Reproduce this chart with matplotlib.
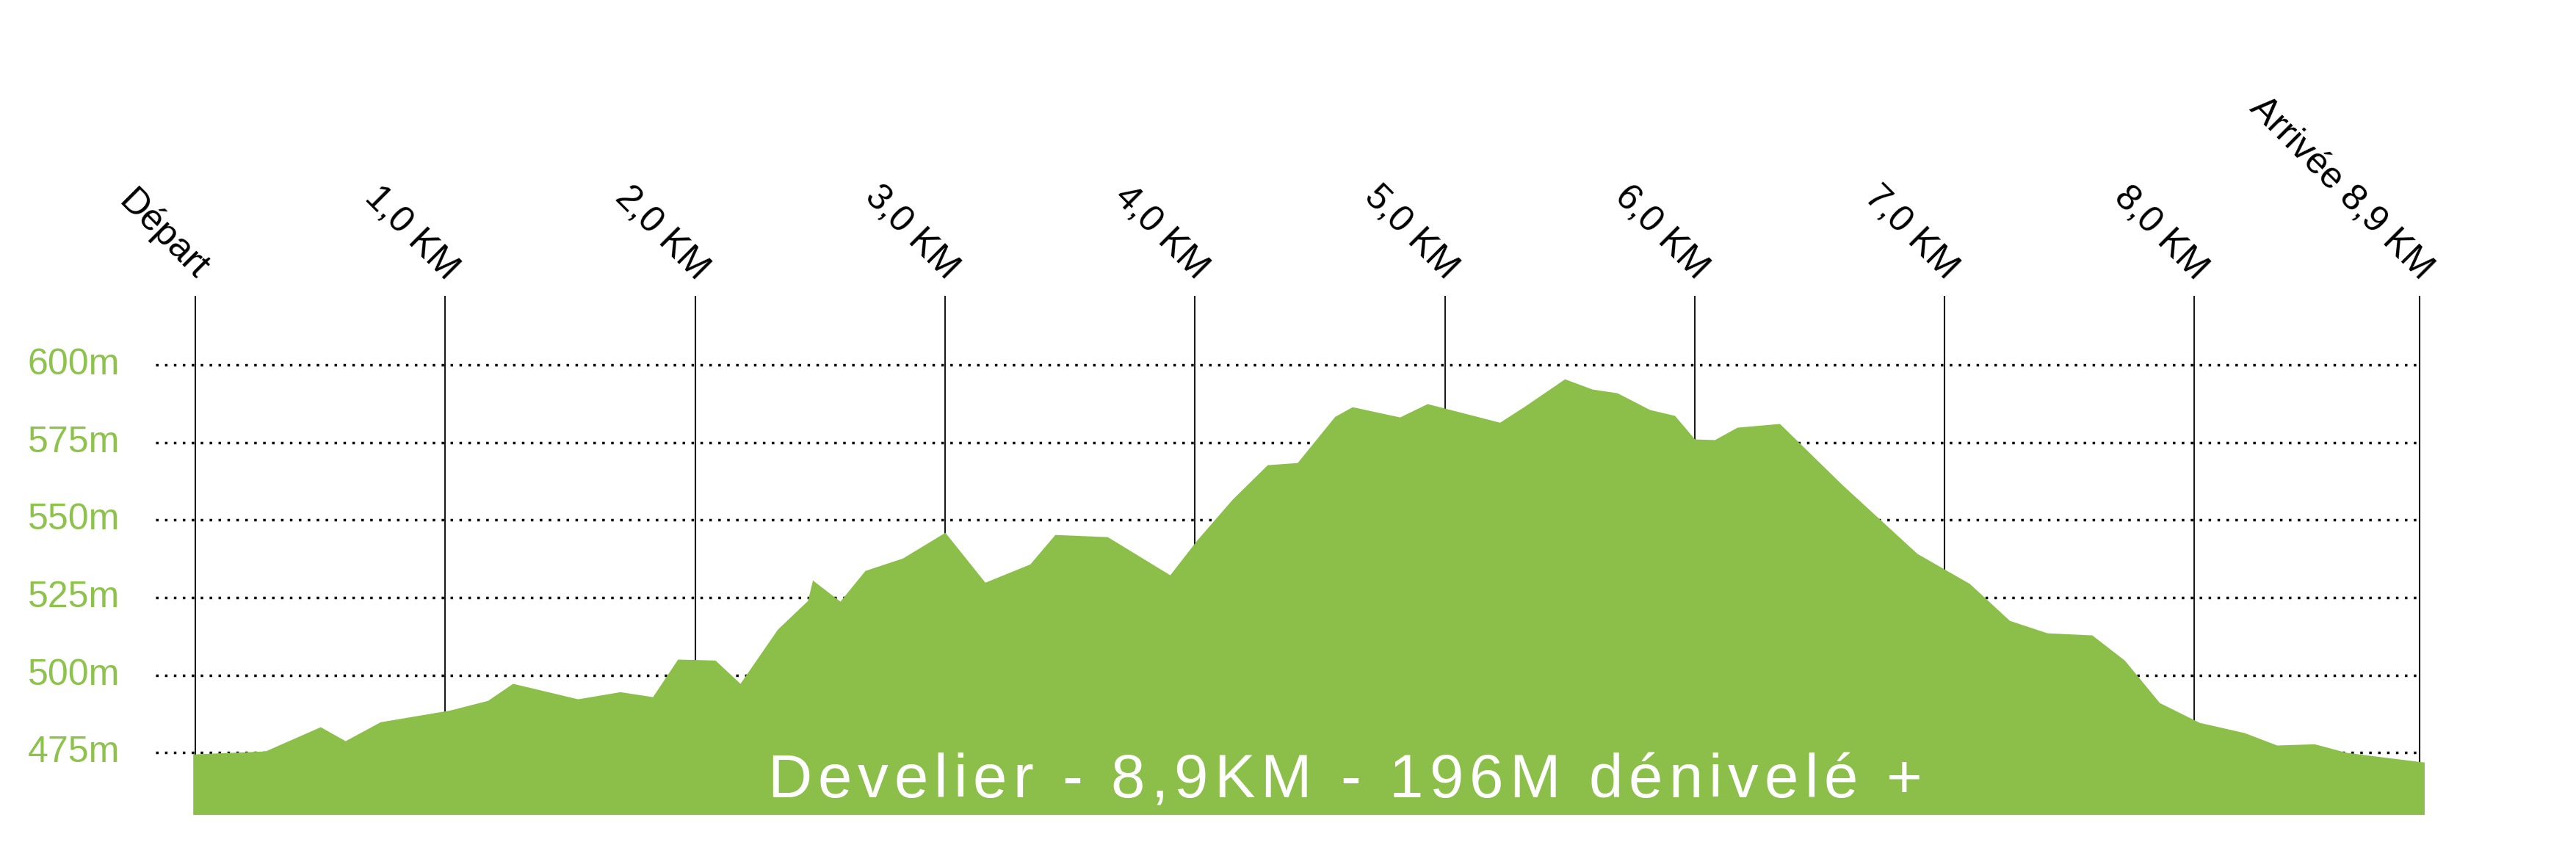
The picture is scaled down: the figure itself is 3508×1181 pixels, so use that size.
import matplotlib
matplotlib.use("Agg")
import matplotlib.pyplot as plt
from matplotlib.font_manager import FontProperties, findfont, get_font
from matplotlib.transforms import offset_copy

plt.rcParams['font.family'] = ['Liberation Sans', 'DejaVu Sans']

# profile: distance (km) / altitude (m)
km = [-0.01, 0.28, 0.50, 0.60, 0.74, 1.02, 1.17, 1.27, 1.53, 1.70,
      1.83, 1.93, 2.08, 2.18, 2.33, 2.45, 2.47, 2.58, 2.68, 2.83,
      3.00, 3.16, 3.34, 3.44, 3.65, 3.90, 4.01, 4.15, 4.29, 4.41,
      4.56, 4.63, 4.82, 4.93, 5.22, 5.32, 5.48, 5.59, 5.69, 5.82,
      5.92, 6.00, 6.08, 6.17, 6.34, 6.59, 6.89, 7.10, 7.26, 7.41,
      7.59, 7.72, 7.86, 8.02, 8.20, 8.33, 8.48, 8.61, 8.92]
alt = [474.5, 475.5, 483.3, 478.8, 484.9, 488.7, 491.8, 497.3, 492.3, 494.6,
       493.0, 505.1, 504.8, 497.3, 514.8, 524.0, 530.6, 523.8, 533.7, 537.7,
       546.0, 529.9, 535.8, 545.3, 544.6, 532.3, 543.7, 556.7, 567.8, 568.5,
       583.4, 586.5, 583.2, 587.5, 581.5, 586.7, 595.5, 592.2, 591.0, 585.6,
       583.7, 576.1, 575.9, 579.9, 581.1, 561.4, 539.2, 529.5, 517.6, 513.6,
       512.9, 504.8, 491.1, 484.7, 481.4, 477.4, 477.8, 475.0, 471.9]

marker_km = [0, 1, 2, 3, 4, 5, 6, 7, 8, 8.9]
marker_labels = ["Départ", "1,0 KM", "2,0 KM", "3,0 KM", "4,0 KM", "5,0 KM",
                 "6,0 KM", "7,0 KM", "8,0 KM", "Arrivée 8,9 KM"]

grid_alt = [475, 500, 525, 550, 575, 600]
grid_labels = ["475m", "500m", "525m", "550m", "575m", "600m"]

title = "Develier - 8,9KM - 196M dénivelé +"

GREEN = "#8cbf4a"
LABEL_GREEN = "#8dc34b"
BASE = 455
LINE_TOP = 622.3

fig = plt.figure(figsize=(35.08, 11.81), dpi=100)
ax = fig.add_axes([0, 0, 1, 1])
ax.set_xlim(-0.782, 9.527)
ax.set_ylim(438.1, 717.7)
ax.axis('off')

ax.vlines(marker_km, BASE, LINE_TOP, colors='#1a1a1a', lw=1.5, zorder=1)
ax.hlines(grid_alt, -0.16, marker_km[-1], colors='black', lw=2.5,
          linestyles=[(0, (1, 2.5))], zorder=1)
ax.fill_between(km, alt, BASE, color=GREEN, lw=0, zorder=2)

for x, lab in zip(marker_km, marker_labels):
    ax.annotate(lab, xy=(x, LINE_TOP), xytext=(7, 21), textcoords='offset points',
                rotation=-45, rotation_mode='anchor', ha='right', va='center',
                fontsize=36, color='black')

for v, lab in zip(grid_alt, grid_labels):
    ax.text(-0.303, v, lab, ha='right', va='center', fontsize=36, color=LABEL_GREEN)

# title with letter spacing, char by char
size = 60
prop = FontProperties(family='Liberation Sans', size=size)
font = get_font(findfont(prop))
font.set_size(size, fig.dpi)
adv = [font.load_char(ord(c)).linearHoriAdvance / 65536 for c in title]
gap = 8
total = sum(adv) + gap * (len(title) - 1)
x_px = -total / 2
for c, a in zip(title, adv):
    tr = offset_copy(ax.transData, fig=fig, x=x_px, y=0, units='dots')
    ax.text(4.6, 460.6, c, transform=tr, ha='left', va='baseline',
            fontproperties=prop, color='white', zorder=3)
    x_px += a + gap

fig.savefig('out.png', dpi=100)
